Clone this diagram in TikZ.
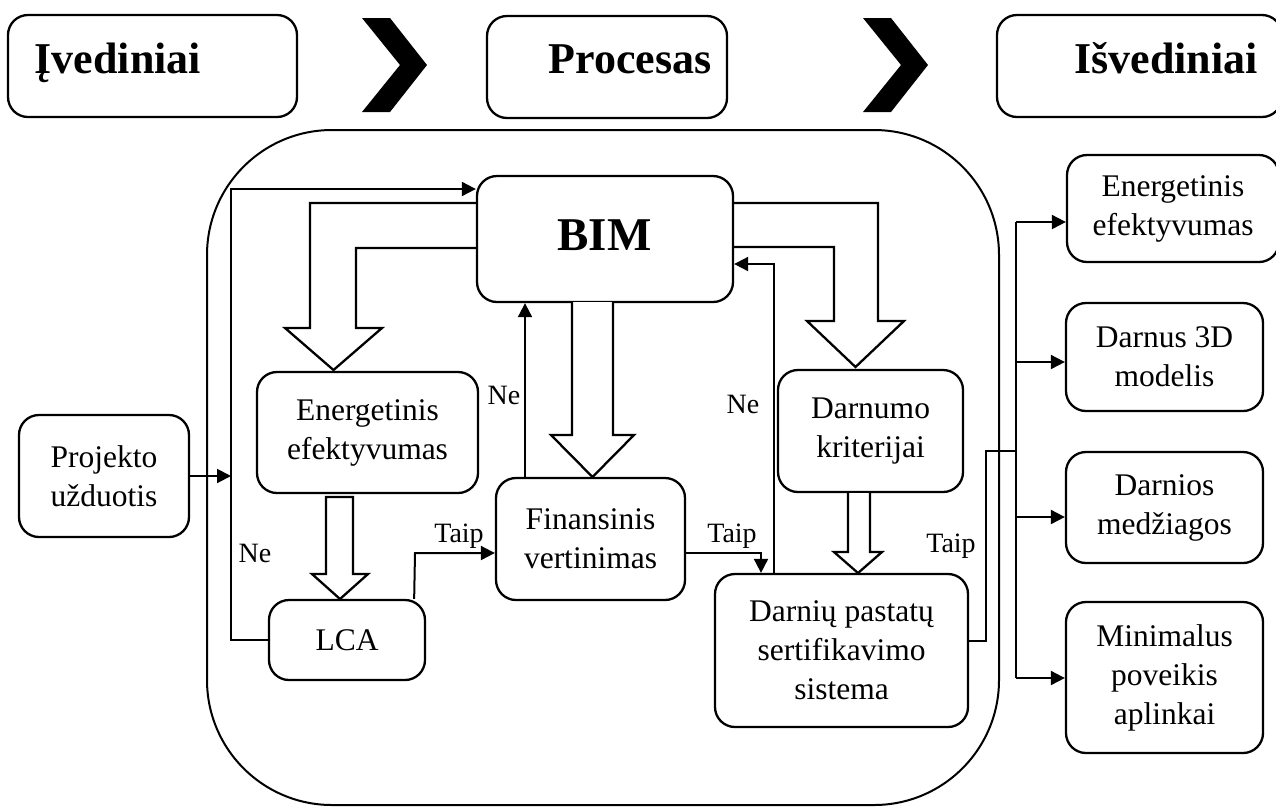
\documentclass[tikz,border=0pt]{standalone}
\usepackage{fontspec}
\setmainfont{Liberation Serif}
\usetikzlibrary{arrows.meta,calc}
\begin{document}
\begin{tikzpicture}[x=1pt,y=-1pt,line join=miter,
  box/.style={draw,line width=2.3pt,rounded corners=20pt,align=center,inner sep=0pt,font=\fontsize{31.5}{39}\selectfont},
  arr/.style={line width=2pt,-{Triangle[length=14pt,width=14pt]}},
  conn/.style={line width=2pt},
  lbl/.style={font=\fontsize{28}{32}\selectfont,inner sep=0pt},
  hollow/.style={draw,line width=2.3pt,fill=white},
  headtext/.style={font=\bfseries\fontsize{44}{50}\selectfont,inner sep=0pt,anchor=base},
  chev/.style={fill=black}]
\clip (0,0) rectangle (1276,807);
% header row
\node[box,minimum width=289pt,minimum height=102pt] (hin) at (152.5,66) {};
\node[headtext] (hint) at (118,73) {Įvediniai};
\node[box,minimum width=240pt,minimum height=102pt] (hproc) at (607,67) {};
\node[headtext] (hproct) at (630,73) {Procesas};
\node[box,minimum width=285pt,minimum height=102pt] (hout) at (1139.5,66) {};
\node[headtext] (houtt) at (1166,73) {Išvediniai};
\fill[chev] (362,18) -- (390,18) -- (427,65) -- (390,112) -- (362,112) -- (400,65) -- cycle;
\fill[chev] (863,18) -- (891,18) -- (928,65) -- (891,112) -- (863,112) -- (901,65) -- cycle;
% process frame
\node[draw,line width=2pt,rounded corners=125pt,minimum width=792pt,minimum height=675pt,inner sep=0pt] (frame) at (603,467.5) {};
% boxes
\node[box,minimum width=256pt,minimum height=126pt] (bim) at (605,239) {};
\node[inner sep=0pt,anchor=base,font=\bfseries\fontsize{47}{52}\selectfont] (bimt) at (604.5,250) {BIM};
\node[box,minimum width=170pt,minimum height=122pt] (proj) at (104,476) {Projekto\\užduotis};
\node[box,minimum width=221pt,minimum height=121pt] (ee) at (367.5,432.5) {Energetinis\\efektyvumas};
\node[box,minimum width=156pt,minimum height=80pt] (lca) at (347,640) {LCA};
\node[box,minimum width=189pt,minimum height=122pt] (fin) at (590.5,539) {Finansinis\\vertinimas};
\node[box,minimum width=185pt,minimum height=122pt] (dk) at (870.5,431) {Darnumo\\kriterijai};
\node[box,minimum width=253pt,minimum height=153pt] (dps) at (841.5,650.5) {Darnių pastatų\\sertifikavimo\\sistema};
\node[box,minimum width=212pt,minimum height=107pt] (o1) at (1173,208.5) {Energetinis\\efektyvumas};
\node[box,minimum width=197pt,minimum height=108pt] (o2) at (1164.5,357) {Darnus 3D\\modelis};
\node[box,minimum width=197pt,minimum height=111pt] (o3) at (1164.5,507.5) {Darnios\\medžiagos};
\node[box,minimum width=197pt,minimum height=151pt] (o4) at (1164.5,677.5) {Minimalus\\poveikis\\aplinkai};
% hollow block arrows
\draw[line width=2.3pt] (477,203) -- (310,203) -- (310,328) -- (285,328) -- (333.5,370) -- (382,328) -- (356,328) -- (356,248) -- (477,248);
\draw[line width=2.3pt] (733,203) -- (878,203) -- (878,321) -- (904,321) -- (855.5,367) -- (807,321) -- (834,321) -- (834,247) -- (733,247);
\draw[hollow] (572,302) -- (572,435) -- (551,435) -- (592.5,477) -- (634,435) -- (613,435) -- (613,302);
\draw[hollow] (326,497) -- (326,574) -- (312,574) -- (340,599) -- (368,574) -- (353,574) -- (353,497) -- cycle;
\draw[hollow] (848,493) -- (848,552) -- (834,552) -- (858,573) -- (882,552) -- (870,552) -- (870,493);
% connectors
\coordinate (loopx) at (231,0);
\draw[arr] (proj.east) -- (proj.east -| loopx);
\draw[arr] (lca.west) -- (lca.west -| loopx) -- (231,189) -- (bim.west |- 0,189);
\draw[arr] ($(lca.north east)+(-12,0)$) -- (415,553) -- (fin.west |- 0,553);
\draw[arr] (fin.north -| 525,0) -- (bim.south -| 525,0);
\draw[arr] (fin.east |- 0,553) -- (761,553) -- (dps.north -| 761,0);
\draw[arr] (dps.north -| 774,0) -- (774,264) -- (bim.east |- 0,264);
\coordinate (bus) at (1016,0);
\draw[conn] (dps.east |- 0,641) -- (986,641) -- (986,451) -- (1016,451);
\draw[conn] (1016,222) -- (1016,678);
\draw[arr] (1016,222) -- (o1.west |- 0,222);
\draw[arr] (1016,362) -- (o2.west |- 0,362);
\draw[arr] (1016,517) -- (o3.west |- 0,517);
\draw[arr] (1016,678) -- (o4.west |- 0,678);
% labels
\node[lbl] (ne1) at (255,553) {Ne};
\node[lbl] (taip1) at (459,536) {Taip};
\node[lbl] (ne2) at (504,395) {Ne};
\node[lbl] (ne3) at (743,404) {Ne};
\node[lbl] (taip2) at (732,536) {Taip};
\node[lbl] (taip3) at (951,546) {Taip};
\end{tikzpicture}
\end{document}
